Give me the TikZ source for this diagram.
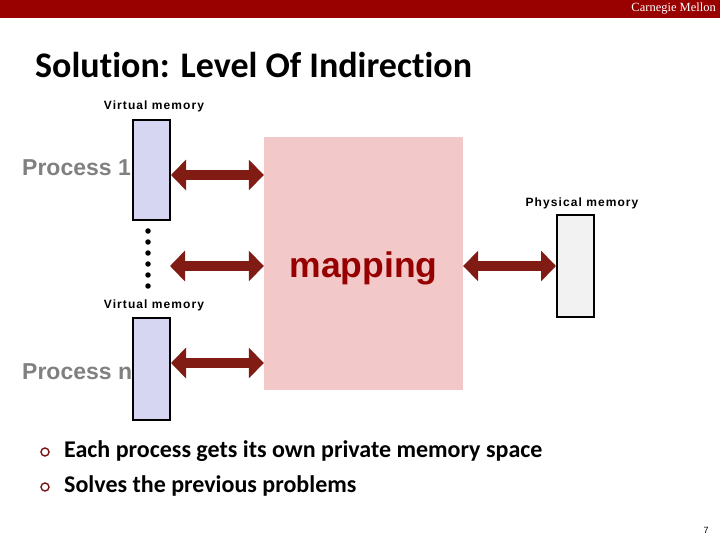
\documentclass[tikz,border=0pt]{standalone}
\usepackage{fontspec}
\setmainfont{Liberation Sans}
\newfontfamily\calib[Ligatures={NoCommon,NoRequired,NoContextual}]{Carlito}
\newfontfamily\tms{Liberation Serif}
\newfontfamily\spaced[LetterSpace=9]{Liberation Sans}
\usetikzlibrary{arrows.meta}
\definecolor{barred}{RGB}{153,0,0}
\definecolor{vmfill}{RGB}{214,214,242}
\definecolor{pinkfill}{RGB}{242,200,200}
\definecolor{arrowred}{RGB}{128,28,20}
\definecolor{maptext}{RGB}{150,0,0}
\definecolor{graytext}{RGB}{128,128,128}
\definecolor{physfill}{RGB}{242,242,242}
\definecolor{bulletred}{RGB}{120,20,20}
\tikzset{
  membox/.style={draw=black,line width=2pt,minimum width=37pt,minimum height=100pt,inner sep=0pt},
  memlabel/.style={font=\spaced\bfseries\fontsize{12}{14}\selectfont,inner sep=0pt},
  proclabel/.style={font=\bfseries\fontsize{23}{27}\selectfont,text=graytext,anchor=west,inner sep=0pt},
  bigarrow/.style={draw=arrowred,line width=10pt,{Triangle[length=15pt,width=30pt,fill=arrowred]}-{Triangle[length=15pt,width=30pt,fill=arrowred]}},
  bullettext/.style={font=\calib\bfseries\fontsize{24}{28}\selectfont,anchor=west,inner sep=0pt},
  bulletmark/.style={circle,draw=bulletred,line width=1.4pt,minimum size=8pt,inner sep=0pt},
  vdot/.style={circle,fill=black,minimum size=5.5pt,inner sep=0pt}
}
\begin{document}
\begin{tikzpicture}[x=1pt,y=-1pt]
\useasboundingbox (0,0) rectangle (720,540);
% top bar
\fill[barred] (0,0) rectangle (720,18);
\node[anchor=east,text=white,font=\tms\fontsize{12.5}{14}\selectfont,inner sep=0pt] (cmu) at (716,9) {Carnegie Mellon};
% title
\node[anchor=west,font=\calib\bfseries\fontsize{36}{42}\selectfont,inner sep=0pt] (title) at (35,65) {Solution: Level Of Indirection};
% pink mapping box
\node[fill=pinkfill,minimum width=199pt,minimum height=253pt,inner sep=0pt] (map) at (363.5,263.5) {};
\node[text=maptext,font=\bfseries\fontsize{35.5}{41}\selectfont,inner sep=0pt,anchor=base] (maplab) at (363.5,277) {mapping};
% process labels (behind boxes)
\node[proclabel] (p1lab) at (22,168) {Process 1};
\node[proclabel] (pnlab) at (22,372) {Process n};
% memory boxes
\node[membox,fill=vmfill] (p1) at (151.5,170) {};
\node[membox,fill=vmfill,minimum height=102pt] (pn) at (151.5,369) {};
\node[membox,fill=physfill,minimum height=102pt] (phys) at (575.5,266) {};
% labels
\node[memlabel] (vm1) at (154,106) {Virtual memory};
\node[memlabel] (vm2) at (154,305) {Virtual memory};
\node[memlabel] (pm) at (582,203) {Physical memory};
% dots
\foreach \i in {0,...,5} {
  \node[vdot] (d\i) at (148,231+11*\i) {};
}
% arrows
\coordinate (ya) at (0,175);
\coordinate (yb) at (0,266);
\coordinate (yc) at (0,363);
\coordinate (mid) at (170,266);
\draw[bigarrow] (p1.east |- ya) -- (map.west |- ya);
\draw[bigarrow] (mid) -- (map.west |- yb);
\draw[bigarrow] (pn.east |- yc) -- (map.west |- yc);
\draw[bigarrow] (map.east |- yb) -- (phys.west |- yb);
% bullets
\node[bulletmark] (b1) at (45,452) {};
\node[bulletmark] (b2) at (45,487) {};
\node[bullettext] (t1) at (64,451) {Each process gets its own private memory space};
\node[bullettext] (t2) at (64,486) {Solves the previous problems};
% page number
\node[font=\fontsize{9}{11}\selectfont,inner sep=0pt] (pg) at (706,530) {7};
\end{tikzpicture}
\end{document}
